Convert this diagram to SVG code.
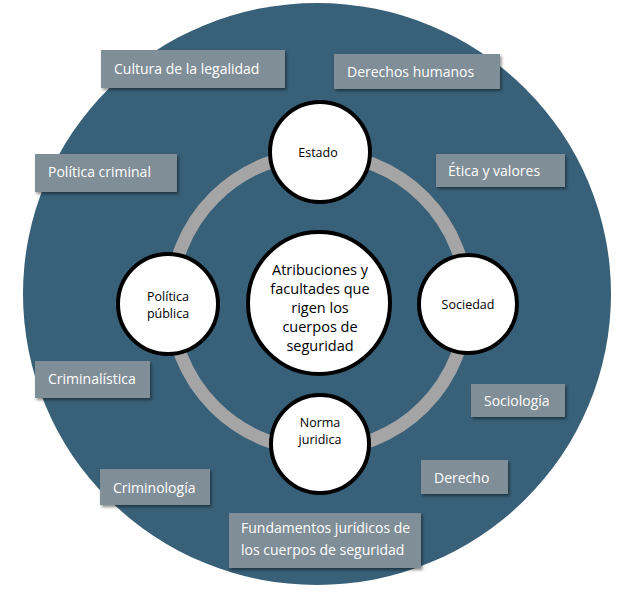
<svg xmlns="http://www.w3.org/2000/svg" width="639" height="594" viewBox="0 0 639 594">
<style>
.box{fill:#7f8e97;filter:url(#sh)}
.bt{font-family:"Open Sans","Liberation Sans",sans-serif;font-size:14px;fill:#ffffff}
.node{fill:#ffffff;stroke:#000000;stroke-width:4}
.nt{font-family:"Open Sans","Liberation Sans",sans-serif;font-size:12.5px;fill:#000000;text-anchor:middle}
.ct{font-family:"Open Sans","Liberation Sans",sans-serif;font-size:14.5px;fill:#000000;text-anchor:middle}
</style>
<defs>
<filter id="sh" x="-10%" y="-20%" width="130%" height="150%">
<feDropShadow dx="1.5" dy="2" stdDeviation="1.5" flood-color="#000" flood-opacity="0.45"/>
</filter>
</defs>
<rect width="639" height="594" fill="#ffffff"/>
<ellipse id="background" cx="317" cy="294" rx="294" ry="291" fill="#386078"/>
<g id="connectors">
<circle cx="319" cy="302" r="148" fill="none" stroke="#a5a5a5" stroke-width="13"/>
</g>
<g id="n-center"><circle class="node" cx="319" cy="303" r="71"/>
<text class="ct"><tspan x="320" y="275">Atribuciones y</tspan><tspan x="320" y="294">facultades que</tspan><tspan x="320" y="313">rigen los</tspan><tspan x="320" y="332">cuerpos de</tspan><tspan x="320" y="351">seguridad</tspan></text></g>
<g id="n-estado"><circle class="node" cx="320" cy="152" r="50"/><text class="nt" x="318" y="157">Estado</text></g>
<g id="n-sociedad"><circle class="node" cx="468" cy="304" r="49"/><text class="nt" x="468" y="309">Sociedad</text></g>
<g id="n-norma"><circle class="node" cx="320" cy="444" r="49"/><text class="nt"><tspan x="320" y="427">Norma</tspan><tspan x="320" y="444">juridica</tspan></text></g>
<g id="n-politica"><circle class="node" cx="168" cy="304" r="50"/><text class="nt"><tspan x="168" y="301">Política</tspan><tspan x="168" y="318">pública</tspan></text></g>
<g id="b-cultura"><rect class="box" x="101" y="50" width="184" height="38"/><text class="bt" x="114" y="74">Cultura de la legalidad</text></g>
<g id="b-derechos"><rect class="box" x="334" y="54" width="166" height="35"/><text class="bt" x="347" y="77">Derechos humanos</text></g>
<g id="b-politicacrim"><rect class="box" x="35" y="154" width="142" height="38"/><text class="bt" x="48" y="177">Política criminal</text></g>
<g id="b-etica"><rect class="box" x="436" y="154" width="129" height="33"/><text class="bt" x="448" y="176">Ética y valores</text></g>
<g id="b-criminalistica"><rect class="box" x="35" y="361" width="115" height="37"/><text class="bt" x="48" y="384">Criminalística</text></g>
<g id="b-sociologia"><rect class="box" x="471" y="384" width="94" height="33"/><text class="bt" x="484" y="406">Sociología</text></g>
<g id="b-criminologia"><rect class="box" x="100" y="469" width="110" height="36"/><text class="bt" x="113" y="493">Criminología</text></g>
<g id="b-derecho"><rect class="box" x="421" y="460" width="87" height="34"/><text class="bt" x="434" y="483">Derecho</text></g>
<g id="b-fundamentos"><rect class="box" x="229" y="513" width="192" height="55"/><text class="bt"><tspan x="241" y="533">Fundamentos jurídicos de</tspan><tspan x="241" y="555">los cuerpos de seguridad</tspan></text></g>
</svg>
